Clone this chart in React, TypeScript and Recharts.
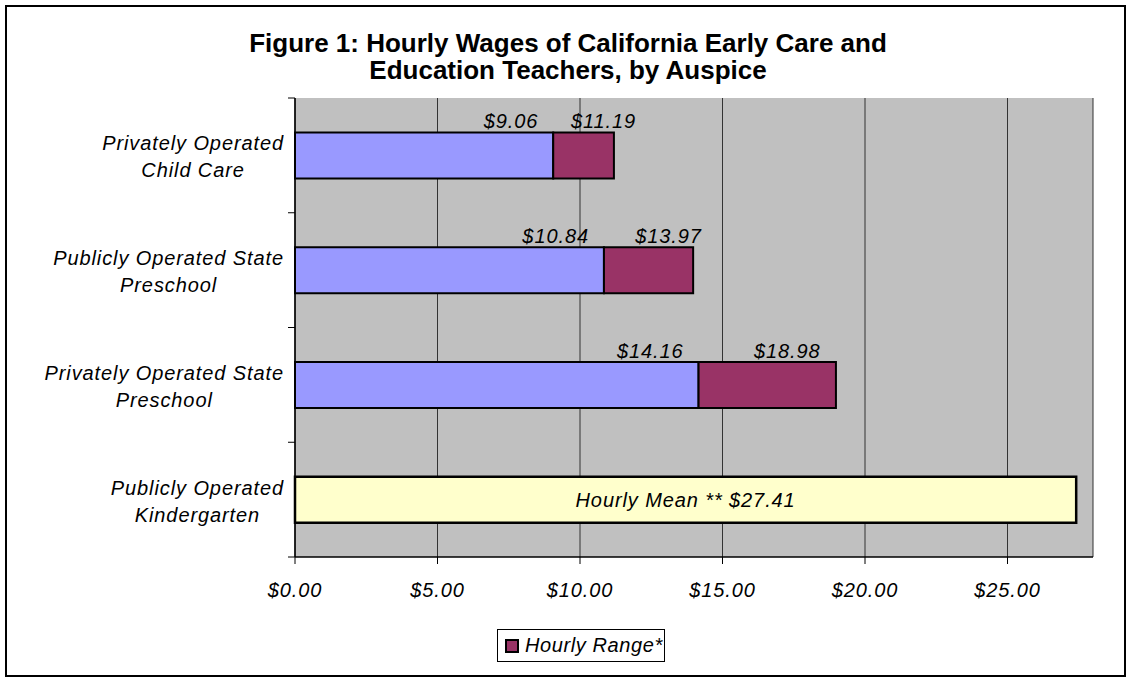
import { Bar, BarChart, CartesianGrid, LabelList, XAxis, YAxis } from "recharts";

const categories = [
  "Privately Operated\nChild Care",
  "Publicly Operated State\nPreschool",
  "Privately Operated State\nPreschool",
  "Publicly Operated\nKindergarten",
];
const lowWage = [9.06, 10.84, 14.16, null];
const highWage = [11.19, 13.97, 18.98, null];
const meanWage = [null, null, null, 27.41];
const xTicks = [0, 5, 10, 15, 20, 25];

const data = categories.map((name, i) => ({
  name,
  low: lowWage[i],
  range: highWage[i] != null && lowWage[i] != null ? +(highWage[i]! - lowWage[i]!).toFixed(2) : null,
  high: highWage[i],
  mean: meanWage[i],
}));

const FONT = '"Liberation Sans", Arial, sans-serif';
const labelFont = { fontFamily: FONT, fontStyle: "italic", fontSize: 20, letterSpacing: 0.9 };
const money = (v: number) => `$${v.toFixed(2)}`;

function CategoryTick(props: any) {
  const { x, y, payload, index } = props;
  const half = payload?.offset || 57.4;
  const axisX = x + 11;
  const isLast = (payload?.index ?? index) === categories.length - 1;
  return (
    <g>
      <line x1={axisX - 7} x2={axisX} y1={y - half} y2={y - half} stroke="#000" />
      {isLast && <line x1={axisX - 7} x2={axisX} y1={y + half} y2={y + half} stroke="#000" />}
      <foreignObject x={x - 300} y={y - 38} width={300} height={80}>
        <div style={{ display: "flex", height: "100%", alignItems: "center", justifyContent: "flex-end" }}>
          <span style={{ ...labelFont, display: "inline-block", textAlign: "center", lineHeight: "27px", whiteSpace: "pre", color: "#000" } as any}>
            {String(payload.value)}
          </span>
        </div>
      </foreignObject>
    </g>
  );
}

function LowLabel(p: any) {
  if (p.value == null) return null;
  return (
    <text x={p.x + p.width - 15} y={p.y - 11} dy="0.35em" textAnchor="end" style={labelFont as any} fill="#000">
      {money(p.value)}
    </text>
  );
}

function HighLabel(p: any) {
  if (p.value == null) return null;
  return (
    <text x={p.x + p.width / 2 + 20} y={p.y - 11} dy="0.35em" textAnchor="middle" style={labelFont as any} fill="#000">
      {money(p.value)}
    </text>
  );
}

function MeanLabel(p: any) {
  if (p.value == null) return null;
  return (
    <text x={p.x + p.width / 2} y={p.y + p.height / 2} dy="0.35em" textAnchor="middle" style={labelFont as any} fill="#000">
      {`Hourly Mean ** ${money(p.value)}`}
    </text>
  );
}

export default function App() {
  return (
    <div style={{ position: "absolute", left: 0, top: 0, width: 1131, height: 679, background: "#fff" }}>
      <div style={{ position: "absolute", left: 5, top: 5, width: 1117, height: 668, border: "2px solid #000" }} />
      <div
        style={{
          position: "absolute",
          left: 5,
          top: 30,
          width: 1126,
          textAlign: "center",
          fontFamily: FONT,
          fontWeight: "bold",
          fontSize: 26,
          lineHeight: "27px",
          color: "#000",
        }}
      >
        Figure 1: Hourly Wages of California Early Care and
        <br />
        Education Teachers, by Auspice
      </div>
      <div style={{ position: "absolute", left: 0, top: 0 }}>
        <BarChart
          width={1131}
          height={679}
          data={data}
          layout="vertical"
          margin={{ top: 98, right: 38, bottom: 92, left: 5 }}
          barCategoryGap="30%"
        >
          <CartesianGrid horizontal={false} fill="#c0c0c0" stroke="#333" />
          <XAxis
            type="number"
            domain={[0, 28]}
            ticks={xTicks}
            tickFormatter={money}
            height={30}
            axisLine={{ stroke: "#000", strokeWidth: 1.5 }}
            tickLine={{ stroke: "#000" }}
            tickSize={7}
            tickMargin={19}
            tick={{ ...labelFont, fill: "#000" } as any}
            interval={0}
          />
          <XAxis xAxisId="top" orientation="top" type="number" domain={[0, 28]} height={0} tick={false} tickLine={false} axisLine={{ stroke: "#808080", strokeWidth: 2 }} />
          <YAxis
            type="category"
            dataKey="name"
            width={290}
            axisLine={{ stroke: "#000", strokeWidth: 1.5 }}
            tickLine={false}
            tickSize={7}
            tickMargin={4}
            tick={<CategoryTick />}
            interval={0}
          />
          <YAxis yAxisId="right" orientation="right" type="category" dataKey="name" width={0} tick={false} tickLine={false} axisLine={{ stroke: "#808080", strokeWidth: 2 }} />
          <Bar dataKey="low" stackId="w" fill="#9999ff" stroke="#000" strokeWidth={2} isAnimationActive={false}>
            <LabelList dataKey="low" content={<LowLabel />} />
          </Bar>
          <Bar dataKey="range" stackId="w" fill="#993366" stroke="#000" strokeWidth={2} isAnimationActive={false}>
            <LabelList dataKey="high" content={<HighLabel />} />
          </Bar>
          <Bar dataKey="mean" stackId="w" fill="#ffffcc" stroke="#000" strokeWidth={2.5} isAnimationActive={false}>
            <LabelList dataKey="mean" content={<MeanLabel />} />
          </Bar>
        </BarChart>
      </div>
      <div
        style={{
          position: "absolute",
          left: 497,
          top: 629,
          width: 166,
          height: 31,
          border: "1px solid #000",
          background: "#fff",
          display: "flex",
          alignItems: "center",
          whiteSpace: "nowrap",
        }}
      >
        <span style={{ flexShrink: 0, display: "inline-block", width: 10, height: 10, marginLeft: 7, marginRight: 6, background: "#993366", border: "2px solid #000" }} />
        <span style={{ ...labelFont, letterSpacing: 0.6, color: "#000", whiteSpace: "nowrap" } as any}>Hourly Range*</span>
      </div>
    </div>
  );
}
